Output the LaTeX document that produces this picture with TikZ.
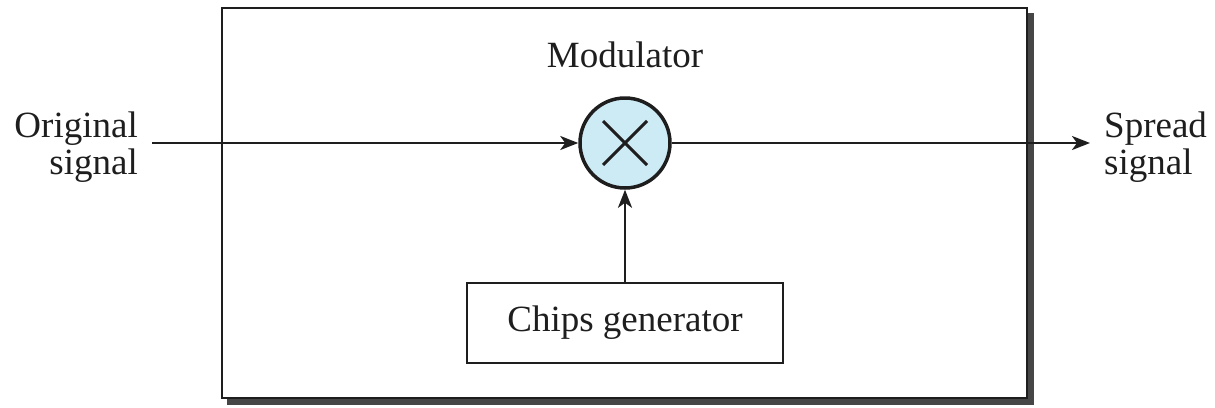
\documentclass[tikz,border=0pt]{standalone}
\usepackage{fontspec}
\setmainfont{Liberation Serif}
\usetikzlibrary{arrows.meta}
\definecolor{mixblue}{RGB}{205,235,245}
\definecolor{shadowgray}{RGB}{70,70,70}
\definecolor{ink}{RGB}{30,30,30}
\begin{document}
\begin{tikzpicture}[x=1pt,y=-1pt,
  lbl/.style={font=\fontsize{37}{37}\selectfont, inner sep=0pt, text=ink},
  conn/.style={draw=ink, line width=2.6pt, -{Stealth[length=18pt,width=14pt,inset=5pt]}},
  boxline/.style={draw=ink, line width=2.4pt}]
\useasboundingbox (0,0) rectangle (1215,407);
% shadow of the main box
\fill[shadowgray] (1027,13) rectangle (1034,405);
\fill[shadowgray] (227,398) rectangle (1034,405);
% main box
\node[boxline, fill=white, minimum width=805pt, minimum height=390pt, inner sep=0pt] (mod) at (624.5,203) {};
\node[lbl, anchor=base] (title) at (625,67) {Modulator};
% mixer
\node[circle, draw=ink, line width=3.5pt, fill=mixblue, minimum size=90pt, inner sep=0pt] (mix) at (625,143) {};
\draw[ink, line width=3pt] (mix.center) +(-22,-22) -- +(22,22);
\draw[ink, line width=3pt] (mix.center) +(-22,22) -- +(22,-22);
% chips generator
\node[boxline, lbl, fill=white, minimum width=316pt, minimum height=80pt] (gen) at (625,323) {Chips generator};
% outside labels
\node[lbl, align=right, anchor=east] (orig) at (138,147) {Original\\signal};
\node[lbl, align=left, anchor=west] (spread) at (1104,147) {Spread\\signal};
\coordinate (in) at (152,143);
\coordinate (out) at (1090,143);
% connectors
\draw[conn] (in) -- (mix.west);
\draw[conn] (mix.east) -- (out);
\draw[conn] (gen.north) -- (mix.south);
\end{tikzpicture}
\end{document}
